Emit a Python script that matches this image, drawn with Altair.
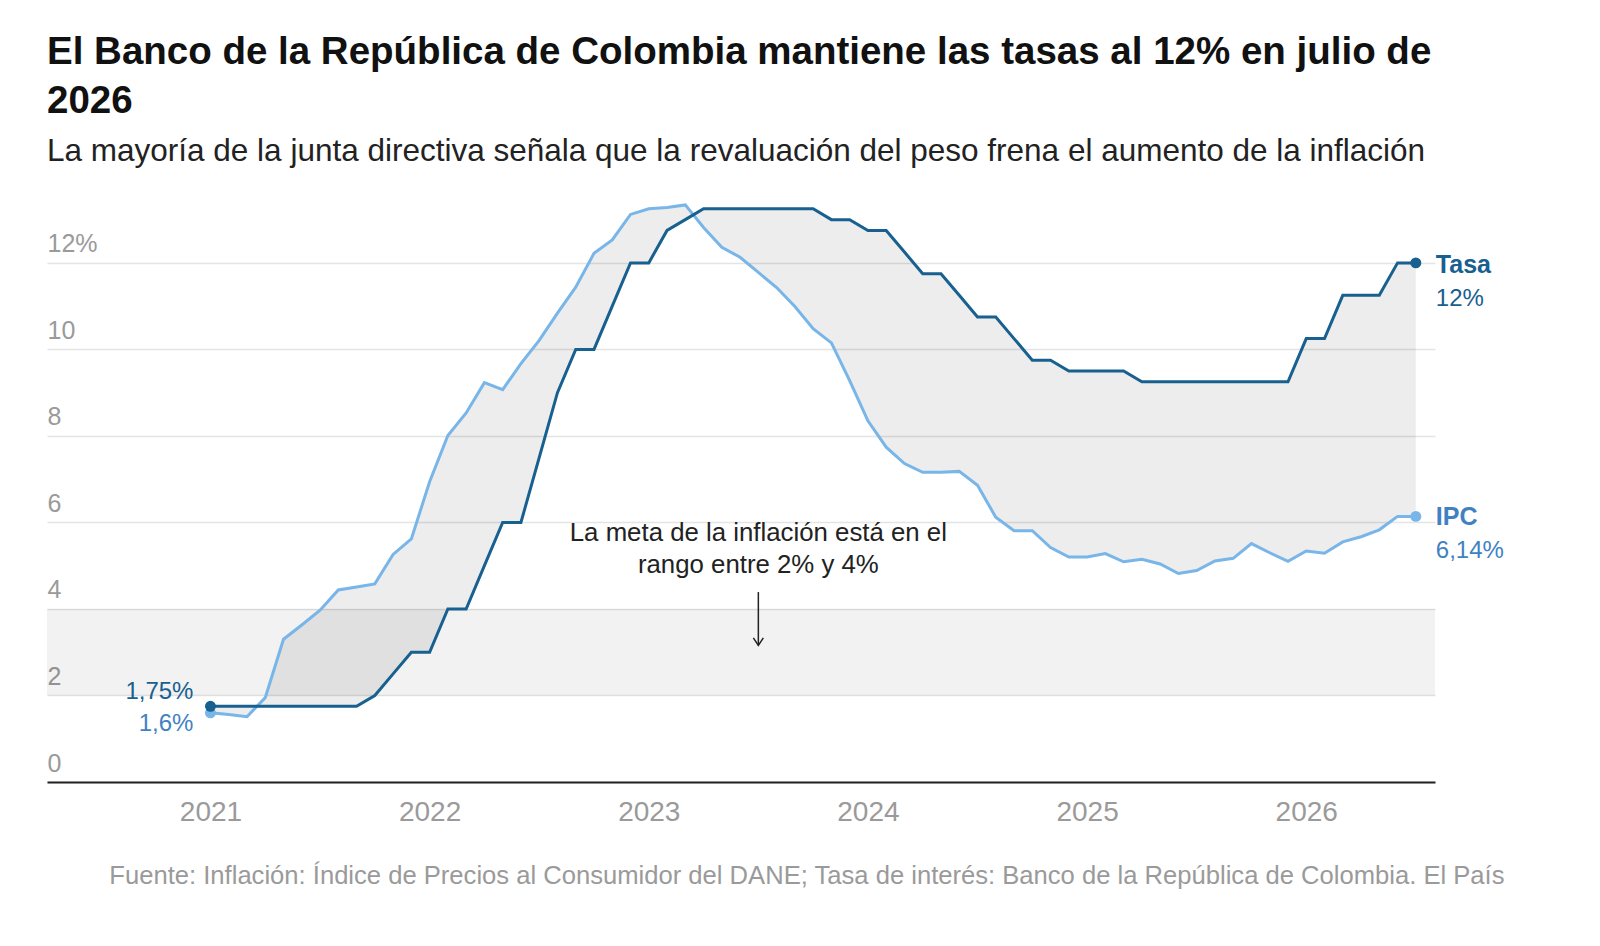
import altair as alt
import pandas as pd

TITLE = ["El Banco de la República de Colombia mantiene las tasas al 12% en julio de", "2026"]
SUBTITLE = "La mayoría de la junta directiva señala que la revaluación del peso frena el aumento de la inflación"
SOURCE = ("Fuente: Inflación: Índice de Precios al Consumidor del DANE; "
          "Tasa de interés: Banco de la República de Colombia. El País")
NOTE = ["La meta de la inflación está en el", "rango entre 2% y 4%"]

# months counted from January 2021 (0) to July 2026 (66)
months = list(range(67))
year_ticks = [0, 12, 24, 36, 48, 60]
y_ticks = [0, 2, 4, 6, 8, 10, 12]

# policy rate, %
tasa = [1.75, 1.75, 1.75, 1.75, 1.75, 1.75, 1.75, 1.75, 1.75, 2.0, 2.5, 3.0,
        3.0, 4.0, 4.0, 5.0, 6.0, 6.0, 7.5, 9.0, 10.0, 10.0, 11.0, 12.0,
        12.0, 12.75, 13.0, 13.25, 13.25, 13.25, 13.25, 13.25, 13.25, 13.25, 13.0, 13.0,
        12.75, 12.75, 12.25, 11.75, 11.75, 11.25, 10.75, 10.75, 10.25, 9.75, 9.75, 9.5,
        9.5, 9.5, 9.5, 9.25, 9.25, 9.25, 9.25, 9.25, 9.25, 9.25, 9.25, 9.25,
        10.25, 10.25, 11.25, 11.25, 11.25, 12.0, 12.0]

# annual CPI inflation, %
ipc = [1.60, 1.56, 1.51, 1.95, 3.30, 3.63, 3.97, 4.44, 4.51, 4.58, 5.26, 5.62,
       6.94, 8.01, 8.53, 9.23, 9.07, 9.67, 10.21, 10.84, 11.44, 12.22, 12.53, 13.12,
       13.25, 13.28, 13.34, 12.82, 12.36, 12.13, 11.78, 11.43, 10.99, 10.48, 10.15, 9.28,
       8.35, 7.74, 7.36, 7.16, 7.16, 7.18, 6.86, 6.12, 5.81, 5.81, 5.42, 5.20,
       5.20, 5.28, 5.09, 5.15, 5.04, 4.82, 4.89, 5.11, 5.17, 5.51, 5.30, 5.10,
       5.34, 5.29, 5.55, 5.67, 5.83, 6.14, 6.14]

meta_low, meta_high = 2, 4
note_mes, note_y = 30, 5.57
arrow_from, arrow_to = 4.39, 3.16

FONT = "Liberation Sans"
TASA_COLOR = "#17608f"
IPC_COLOR = "#78b5e8"
IPC_TEXT = "#3f82c2"
GRAY = "#9a9a9a"

df = pd.DataFrame({"mes": months, "tasa": tasa, "ipc": ipc})


def pct(v):
    return f"{v:g}".replace(".", ",") + "%"


def x_enc():
    return alt.X(
        "mes:Q",
        scale=alt.Scale(domain=[-8.95, 67.05], nice=False, zero=False),
        axis=alt.Axis(
            values=year_ticks, labelExpr="'' + (2021 + datum.value / 12)",
            domain=True, domainColor="#222222", domainWidth=2,
            ticks=False, tickSize=0, grid=False,
            labelFont=FONT, labelFontSize=28, labelColor=GRAY,
            labelPadding=38, labelBaseline="alphabetic", labelFlush=False,
            title=SOURCE, titleFont=FONT, titleFontSize=25.6, titleFontWeight="normal",
            titleColor=GRAY, titleAlign="right", titleBaseline="alphabetic",
            titleX=1457, titleY=101,
        ),
    )


def y_enc(field):
    return alt.Y(
        f"{field}:Q",
        scale=alt.Scale(domain=[0, 13.5], nice=False),
        axis=alt.Axis(
            values=y_ticks, labelExpr="datum.value == 12 ? '12%' : datum.label",
            labelAlign="left", labelBaseline="alphabetic", labelPadding=0,
            labelOffset=-11, tickSize=0, ticks=False, domain=False,
            grid=True, gridColor="#e4e4e4", gridWidth=1.5,
            labelFont=FONT, labelFontSize=25, labelColor=GRAY,
            labelFlush=False, labelOverlap=False, title=None,
        ),
    )


band = (
    alt.Chart(pd.DataFrame({"lo": [meta_low], "hi": [meta_high]}))
    .mark_rect(color="black", opacity=0.05)
    .encode(y=y_enc("lo"), y2="hi")
)

gap = (
    alt.Chart(df)
    .mark_area(color="black", opacity=0.07)
    .encode(x=x_enc(), y=y_enc("tasa"), y2="ipc")
)

ipc_line = alt.Chart(df).mark_line(color=IPC_COLOR, strokeWidth=3).encode(x=x_enc(), y=y_enc("ipc"))
tasa_line = alt.Chart(df).mark_line(color=TASA_COLOR, strokeWidth=3).encode(x=x_enc(), y=y_enc("tasa"))

ends = pd.DataFrame({"mes": [months[0], months[-1]], "tasa": [tasa[0], tasa[-1]], "ipc": [ipc[0], ipc[-1]]})
ipc_dots = alt.Chart(ends).mark_circle(color=IPC_COLOR, size=120, opacity=1).encode(x=x_enc(), y=y_enc("ipc"))
tasa_dots = alt.Chart(ends).mark_circle(color=TASA_COLOR, size=120, opacity=1).encode(x=x_enc(), y=y_enc("tasa"))


def label(mes, valor, texto, color, dx, dy, align="left", bold=False, size=24):
    d = pd.DataFrame({"mes": [mes], "valor": [valor], "texto": [texto]})
    return (
        alt.Chart(d)
        .mark_text(font=FONT, fontSize=size, fontWeight="bold" if bold else "normal",
                   color=color, align=align, baseline="alphabetic", dx=dx, dy=dy)
        .encode(x=x_enc(), y=y_enc("valor"), text="texto:N")
    )


labels = [
    label(months[-1], tasa[-1], "Tasa", TASA_COLOR, 20, 10.5, bold=True, size=25),
    label(months[-1], tasa[-1], pct(tasa[-1]), TASA_COLOR, 20, 43.5),
    label(months[-1], ipc[-1], "IPC", IPC_TEXT, 20, 9, bold=True, size=25),
    label(months[-1], ipc[-1], pct(ipc[-1]), IPC_TEXT, 20, 42),
    label(months[0], tasa[0], pct(tasa[0]), TASA_COLOR, -17, -7.5, align="right"),
    label(months[0], ipc[0], pct(ipc[0]), IPC_TEXT, -17, 18.4, align="right"),
]

note = (
    alt.Chart(pd.DataFrame({"mes": [note_mes], "valor": [note_y]}))
    .mark_text(text=NOTE, font=FONT, fontSize=25.8, lineHeight=32, color="#222222",
               align="center", baseline="alphabetic")
    .encode(x=x_enc(), y=y_enc("valor"))
)

arrow_df = pd.DataFrame({"mes": [note_mes], "y0": [arrow_from], "y1": [arrow_to]})
arrow = (
    alt.Chart(arrow_df)
    .mark_rule(color="#222222", strokeWidth=1.5)
    .encode(x=x_enc(), y=y_enc("y0"), y2="y1")
)
arrow_head = (
    alt.Chart(arrow_df)
    .mark_point(shape="M-1,-1.5L0,0L1,-1.5", filled=False, size=100,
                color="#222222", strokeWidth=1.5, opacity=1)
    .encode(x=x_enc(), y=y_enc("y1"))
)

chart = (
    alt.layer(band, gap, ipc_line, tasa_line, ipc_dots, tasa_dots, note, arrow, arrow_head, *labels)
    .properties(
        width=1388, height=584,
        padding={"left": 39, "top": 190, "right": 120, "bottom": 110},
        autosize=alt.AutoSizeParams(type="none"),
        title=alt.TitleParams(
            text=TITLE, subtitle=SUBTITLE, anchor="start", frame="group",
            font=FONT, fontSize=38.5, fontWeight="bold", color="#111111", lineHeight=49,
            subtitleFont=FONT, subtitleFontSize=31.5, subtitleColor="#222222",
            subtitlePadding=14, offset=30,
        ),
    )
    .configure_view(stroke=None)
)

chart.save("out.html", embed_options={"renderer": "svg", "actions": False})
